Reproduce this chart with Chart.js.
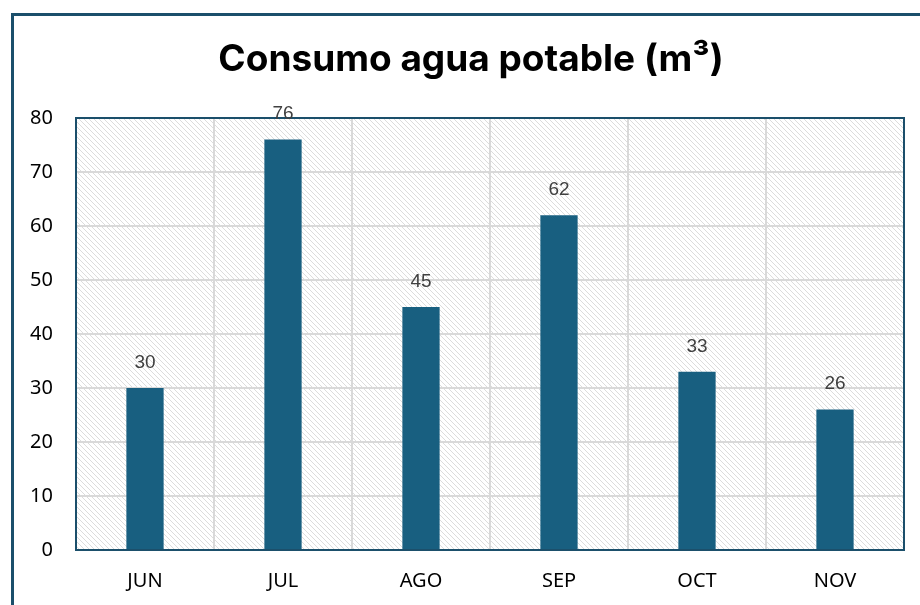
<!DOCTYPE html>
<html>
<head>
<meta charset="utf-8">
<script src="https://cdn.jsdelivr.net/npm/chart.js@4"></script>
<style>
    body { margin: 0; background: #fff; }
    #wrap { width: 920px; height: 605px; }
</style>
</head>
<body>
<div id="wrap"><canvas id="myChart" width="920" height="605"></canvas></div>
<script>
const months = ["JUN", "JUL", "AGO", "SEP", "OCT", "NOV"];
const consumo = [30, 76, 45, 62, 33, 26];
const yTicks = [0, 10, 20, 30, 40, 50, 60, 70, 80];

const frameColor = "#1b4f6b";

// light downward diagonal hatch, like the excel fill
function makeHatch() {
    const c = document.createElement("canvas");
    c.width = 5;
    c.height = 5;
    const g = c.getContext("2d");
    g.fillStyle = "#fff";
    g.fillRect(0, 0, 5, 5);
    g.fillStyle = "#dcdcdc";
    for (let i = 0; i < 5; i++) {
        g.fillRect(i, i, 1, 1);
    }
    return g.createPattern(c, "repeat");
}

const hatchPlugin = {
    id: "hatch",
    afterLayout(chart) {
        // title is centred on the box, not on the plot
        if (chart.titleBlock) chart.titleBlock.left = 38;
    },
    beforeDraw(chart) {
        const { ctx, chartArea } = chart;
        ctx.save();
        // outer border of the chart box (runs off right and bottom)
        ctx.strokeStyle = frameColor;
        ctx.lineWidth = 3;
        ctx.beginPath();
        ctx.moveTo(12.5, chart.height + 5);
        ctx.lineTo(12.5, 14.5);
        ctx.lineTo(chart.width + 5, 14.5);
        ctx.stroke();
        ctx.fillStyle = makeHatch();
        ctx.fillRect(chartArea.left, chartArea.top, chartArea.right - chartArea.left, chartArea.bottom - chartArea.top);
        ctx.restore();
    }
};

const labelPlugin = {
    id: "barLabels",
    afterDraw(chart) {
        const { ctx, chartArea } = chart;
        ctx.save();
        ctx.strokeStyle = frameColor;
        ctx.lineWidth = 2;
        ctx.strokeRect(chartArea.left, chartArea.top, chartArea.right - chartArea.left, chartArea.bottom - chartArea.top);
        ctx.font = "19px 'Liberation Sans', Arial, sans-serif";
        ctx.fillStyle = "#404040";
        ctx.textAlign = "center";
        ctx.textBaseline = "bottom";
        chart.getDatasetMeta(0).data.forEach((bar, i) => {
            ctx.fillText(consumo[i], bar.x, bar.y - 16);
        });
        ctx.restore();
    }
};

const ctx = document.getElementById("myChart").getContext("2d");
new Chart(ctx, {
    type: "bar",
    data: {
        labels: months,
        datasets: [{
            label: "Consumo",
            data: consumo,
            backgroundColor: "#185f80",
            barPercentage: 0.27,
            categoryPercentage: 1
        }]
    },
    options: {
        responsive: false,
        animation: false,
        layout: { padding: { left: 0, right: 16, top: 0, bottom: 0 } },
        plugins: {
            legend: { display: false },
            tooltip: { enabled: false },
            title: {
                display: true,
                text: "Consumo agua potable (m³)",
                color: "#000",
                font: { family: "Inter, 'Noto Sans', sans-serif", size: 37, weight: "bold" },
                padding: { top: 38, bottom: 35.6 }
            }
        },
        scales: {
            x: {
                afterFit(scale) { scale.height = 55; },
                grid: { color: "#d9d9d9", lineWidth: 2, drawTicks: false, offset: true },
                border: { display: false },
                ticks: {
                    color: "#000",
                    padding: 19,
                    font: { family: "'Noto Sans', sans-serif", size: 20 }
                }
            },
            y: {
                min: 0,
                max: 80,
                afterFit(scale) { scale.width = 76; },
                afterBuildTicks(scale) { scale.ticks = yTicks.map(v => ({ value: v })); },
                grid: { color: "#d9d9d9", lineWidth: 2, drawTicks: false },
                border: { display: false },
                ticks: {
                    color: "#000",
                    padding: 23,
                    font: { family: "'Noto Sans', sans-serif", size: 20 }
                }
            }
        }
    },
    plugins: [hatchPlugin, labelPlugin]
});
</script>
</body>
</html>
